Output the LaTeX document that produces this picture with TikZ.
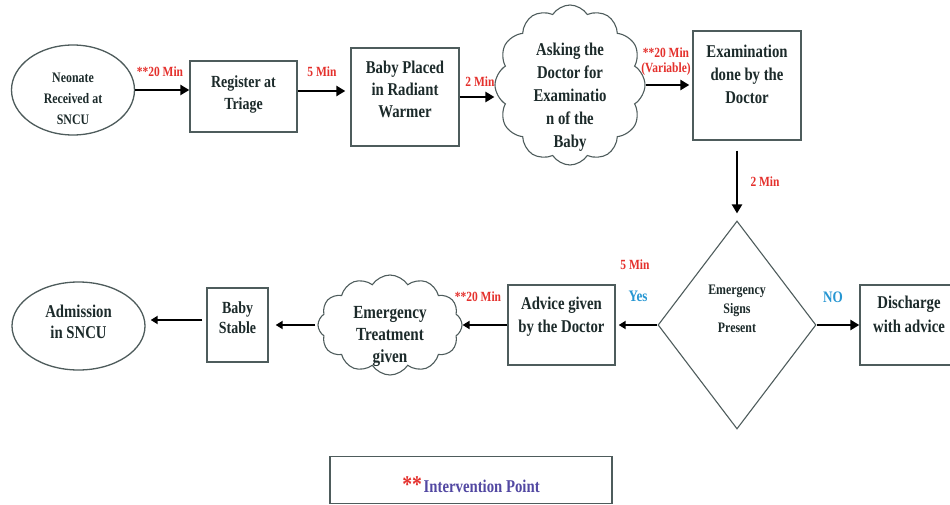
\documentclass[tikz,border=0pt]{standalone}
\usepackage{fontspec}
\setmainfont{Liberation Serif}[FakeStretch=0.82]
\usetikzlibrary{shapes,shapes.geometric,shapes.symbols,arrows.meta}
\definecolor{redc}{RGB}{228,48,44}
\definecolor{bluec}{RGB}{38,150,210}
\definecolor{purpc}{RGB}{82,72,162}
\definecolor{bordc}{RGB}{78,92,92}
\definecolor{txtc}{RGB}{28,42,42}
\newcommand{\fs}[2]{\bfseries\fontsize{#1}{#2}\selectfont}
% text lowered by #1, takes no height
\newcommand{\ntxt}[2]{\raisebox{-#1}[0pt][0pt]{\begin{tabular}{@{}c@{}}#2\end{tabular}}}
\tikzstyle{bx}=[rectangle,draw=bordc,line width=1.3pt,text=txtc,align=center,inner sep=2pt]
\tikzstyle{el}=[ellipse,draw=bordc,line width=1.3pt,text=txtc,align=center,inner sep=0pt]
\tikzstyle{cl}=[cloud,cloud puffs=12,cloud puff arc=115,cloud ignores aspect,draw=bordc,line width=1.1pt,text=txtc,align=center,inner sep=0pt]
\tikzstyle{dm}=[diamond,draw=bordc,line width=1.1pt,text=txtc,align=center,inner sep=0pt]
\tikzstyle{arr}=[-{Triangle[length=9pt,width=10pt]},line width=2.8pt]
\tikzstyle{arrs}=[-{Triangle[length=7pt,width=8pt]},line width=2pt]
\tikzstyle{lbl}=[text=redc,font=\fs{14}{15},align=center,inner sep=0pt]
\tikzstyle{yn}=[text=bluec,font=\fs{16}{17},inner sep=0pt]

\begin{document}
\begin{tikzpicture}[x=1pt,y=-1pt]
\clip (0,0) rectangle (950,505);
% top row
\node[el,minimum width=123pt,minimum height=90pt,font=\fs{14.5}{21}] (recv) at (73,90) {\ntxt{13pt}{Neonate\\Received at\\SNCU}};
\node[bx,minimum width=107pt,minimum height=71pt,font=\fs{17}{22}] (reg) at (243.5,96.5) {\ntxt{2pt}{Register at\\Triage}};
\node[bx,minimum width=108pt,minimum height=98pt,font=\fs{18}{22}] (warm) at (405,97) {\ntxt{-2pt}{Baby Placed\\in Radiant\\Warmer}};
\node[cl,minimum width=150pt,minimum height=160pt,font=\fs{18}{23}] (ask) at (570,85) {\ntxt{16.5pt}{Asking the\\Doctor for\\Examinatio\\n of the\\Baby}};
\node[bx,minimum width=108pt,minimum height=109pt,font=\fs{18}{23}] (exam) at (747,85.5) {\ntxt{-5pt}{Examination\\done by the\\Doctor}};
% decision
\node[dm,minimum width=158pt,minimum height=208pt,font=\fs{14.5}{19}] (sign) at (737,325) {\ntxt{-11.5pt}{Emergency\\Signs\\Present}};
\node[bx,minimum width=98pt,minimum height=80pt,font=\fs{18}{24}] (disch) at (909,325) {\ntxt{-4.5pt}{Discharge\\with advice}};
% bottom row
\node[bx,minimum width=107pt,minimum height=80pt,font=\fs{18}{23}] (adv) at (561.5,325) {\ntxt{-4pt}{Advice given\\by the Doctor}};
\node[cl,minimum width=144pt,minimum height=100pt,font=\fs{18.5}{22}] (treat) at (390,325) {\ntxt{15pt}{Emergency\\Treatment\\given}};
\node[bx,minimum width=61pt,minimum height=74pt,font=\fs{17}{20}] (stable) at (237.5,325) {\ntxt{-1pt}{Baby\\Stable}};
\node[el,minimum width=133pt,minimum height=88pt,font=\fs{18}{21}] (adm) at (78.5,326) {\ntxt{2pt}{Admission\\in SNCU}};
% key
\node[bx,minimum width=282pt,minimum height=47pt,line width=1.1pt] (key) at (471,480) {};
\node[inner sep=0pt] (keytxt) at (471,485) {\textcolor{redc}{\fs{24}{24}**}\,\textcolor{purpc}{\fs{18}{18}Intervention Point}};
% times
\node[lbl] (t1) at (160,72) {**20 Min};
\node[lbl] (t2) at (322,72) {5 Min};
\node[lbl] (t3) at (480,82) {2 Min};
\node[lbl] (t4) at (666,62) {**20 Min\\(Variable)};
\node[lbl] (t5) at (765,182) {2 Min};
\node[lbl] (t6) at (635,265) {5 Min};
\node[lbl] (t7) at (478,297) {**20 Min};
\node[yn] (yes) at (638,296) {Yes};
\node[yn] (no) at (833,297) {NO};
% arrows
\draw[arr] (recv.east) -- (recv.east -| reg.west);
\draw[arr,shorten >=5pt] ([yshift=5.5pt]reg.east) -- ([yshift=5.5pt]reg.east -| warm.west);
\draw[arr] (warm.east) -- (warm.east -| ask.west);
\draw[arr,shorten >=3pt] (ask.east) -- (ask.east -| exam.west);
\draw[arr,shorten <=10pt,shorten >=7pt] (exam.south -| sign.north) -- (sign.north);
\draw[arr] (sign.east) -- (disch.west);
\draw[arrs,shorten >=3pt] (sign.west) -- (adv.east);
\draw[arrs] (adv.west) -- (treat.east);
\draw[arrs,shorten <=2pt,shorten >=7pt] (treat.west) -- (treat.west -| stable.east);
\draw[arrs,shorten <=4pt,shorten >=5pt] ([yshift=5pt]stable.west) -- ([yshift=5pt]stable.west -| adm.east);
\end{tikzpicture}
\end{document}
